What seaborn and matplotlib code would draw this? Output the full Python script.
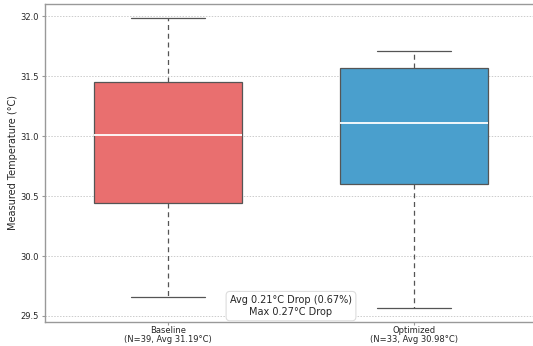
import pandas as pd
import matplotlib.pyplot as plt
import seaborn as sns

# five-number summaries (whisker low, Q1, median, Q3, whisker high)
groups = ["Baseline\n(N=39, Avg 31.19°C)", "Optimized\n(N=33, Avg 30.98°C)"]
baseline_vals = [29.66, 30.44, 31.01, 31.45, 31.98]
optimized_vals = [29.57, 30.60, 31.11, 31.57, 31.71]
box_colors = ["#e96f6f", "#4a9fcd"]
note = "Avg 0.21°C Drop (0.67%)\nMax 0.27°C Drop"

df = pd.DataFrame({
    "group": [groups[0]] * len(baseline_vals) + [groups[1]] * len(optimized_vals),
    "temp": baseline_vals + optimized_vals,
})

sns.set_theme(style="white")
plt.rcParams["font.family"] = ["DejaVu Sans"]

fig = plt.figure(figsize=(5.33, 3.46), dpi=100)
ax = fig.add_axes([45 / 533, 24 / 346, 492 / 533, 318 / 346])

sns.boxplot(
    data=df, x="group", y="temp", hue="group", palette=box_colors,
    legend=False, width=0.6, linewidth=0.9, linecolor="#555555",
    saturation=1, whis=1.5, ax=ax,
    whiskerprops={"linestyle": (0, (4, 3))},
    medianprops={"color": "white", "linewidth": 1.3},
)

ax.set_xlim(-0.5, 1.5)
ax.set_ylim(29.45, 32.1)
ax.set_yticks([29.5, 30.0, 30.5, 31.0, 31.5, 32.0])
ax.set_xlabel("")
ax.set_ylabel("Measured Temperature (°C)", fontsize=7)
ax.yaxis.set_label_coords(-0.055, 0.5)
ax.tick_params(axis="both", labelsize=6, length=2.5, width=0.8, pad=2,
               color="#999999", left=True, bottom=True)
ax.tick_params(axis="x", length=2, pad=0.8)
for lbl in ax.get_xticklabels():
    lbl.set_linespacing(1.05)
ax.yaxis.grid(True, linestyle=(0, (1.5, 1.5)), color="#cccccc", linewidth=0.7)
ax.set_axisbelow(True)
for s in ax.spines.values():
    s.set_color("#999999")
    s.set_linewidth(1.0)

ax.text(0.5, 0.05, note, transform=ax.transAxes, ha="center", va="center",
        fontsize=7, bbox=dict(boxstyle="round,pad=0.4", fc="white", ec="#dddddd", lw=0.8))

fig.savefig("out.png", dpi=100)
